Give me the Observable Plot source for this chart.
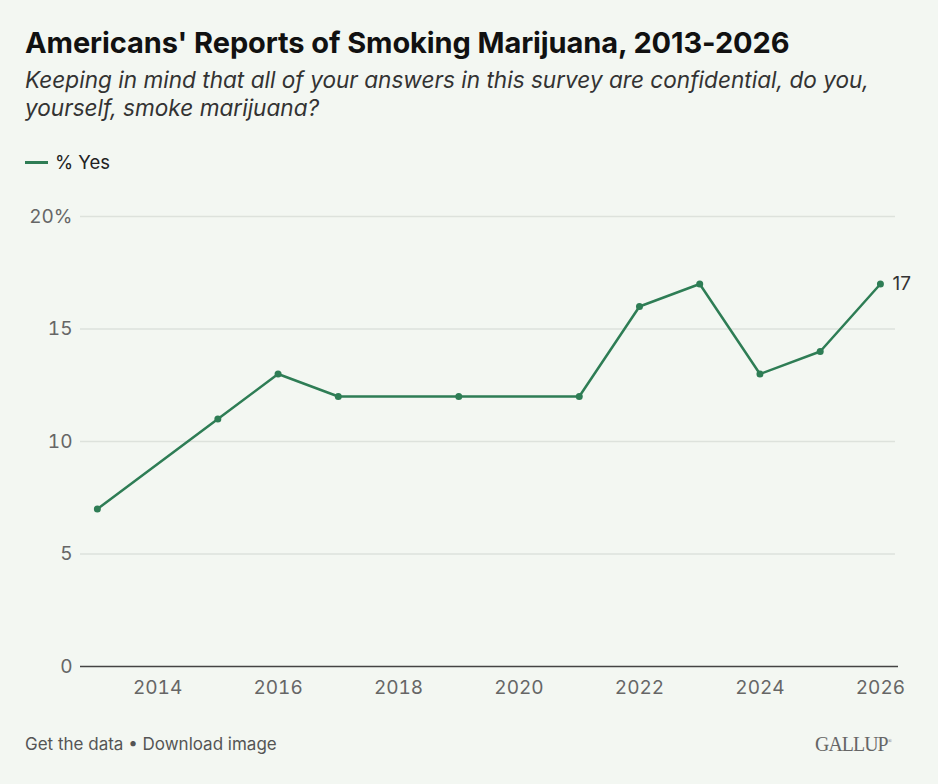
<!DOCTYPE html>
<html><head><meta charset="utf-8">
<script src="https://cdn.jsdelivr.net/npm/d3@7"></script>
<script src="https://cdn.jsdelivr.net/npm/@observablehq/plot@0.6"></script>
<style>
body{margin:0;background:#f3f7f2;font-family:Inter,"Noto Sans",sans-serif;}
#wrap{position:relative;width:938px;height:784px;background:#f3f7f2;overflow:hidden;}
#title{position:absolute;left:25px;top:25px;font-size:29px;font-weight:700;color:#111;letter-spacing:-0.1px;white-space:nowrap;}
#sub{position:absolute;left:25px;top:66px;font-size:22.6px;font-style:italic;color:#333;line-height:28px;width:900px;}
#legend{position:absolute;left:25px;top:151px;font-size:18.5px;color:#222;display:flex;align-items:center;}
#legend span.sw{display:inline-block;width:23px;height:3px;background:#2e7d55;margin-right:7px;}
#chart{position:absolute;left:0;top:180px;}
#foot{position:absolute;left:25px;top:734px;font-size:17px;color:#555;}
#logo{position:absolute;left:815px;top:731px;font-family:"Liberation Serif","DejaVu Serif",serif;font-size:22px;color:#666;letter-spacing:-1px;transform:scaleX(0.9);transform-origin:left;}
</style></head>
<body><div id="wrap">
<div id="title">Americans' Reports of Smoking Marijuana, 2013-2026</div>
<div id="sub">Keeping in mind that all of your answers in this survey are confidential, do you, yourself, smoke marijuana?</div>
<div id="legend"><span class="sw"></span>% Yes</div>
<div id="chart"></div>
<div id="foot">Get the data • Download image</div>
<div id="logo">GALLUP<sup style="font-size:6px">®</sup></div>
</div>
<script>
const years = [2013, 2015, 2016, 2017, 2019, 2021, 2022, 2023, 2024, 2025, 2026];
const yesValues = [7, 11, 13, 12, 12, 12, 16, 17, 13, 14, 17];
const xTicks = [2014, 2016, 2018, 2020, 2022, 2024, 2026];
const yTicks = [0, 5, 10, 15, 20];
const data = years.map((y, i) => ({year: y, value: yesValues[i]}));
const last = data[data.length - 1];
const green = "#2e7d55";
const chart = Plot.plot({
  width: 938, height: 540,
  marginLeft: 80, marginRight: 40, marginTop: 36, marginBottom: 54,
  style: {background: "transparent", fontFamily: "Inter, 'Noto Sans', sans-serif", fontSize: "18px", color: "#666"},
  x: {domain: [2012.72, 2026.3], ticks: xTicks, tickFormat: d => String(d), tickSize: 0, tickPadding: 14, label: null},
  y: {domain: [0, 20], ticks: yTicks, tickFormat: d => d === 20 ? "20%" : String(d), tickSize: 0, tickPadding: 8, label: null},
  marks: [
    Plot.gridY(yTicks.filter(d => d > 0), {stroke: "#dde2dc", strokeOpacity: 1, strokeWidth: 1.5, x1: 2012.72, x2: 2026.25}),
    Plot.axisX({ticks: xTicks, tickFormat: d => String(d), tickSize: 0, tickPadding: 14, fill: "#666", fontSize: 19}),
    Plot.axisY({ticks: yTicks, tickFormat: d => d === 20 ? "20%" : String(d), tickSize: 0, tickPadding: 8, fill: "#666", fontSize: 19}),
    Plot.ruleY([0], {stroke: "#444", strokeWidth: 1.5}),
    Plot.line(data, {x: "year", y: "value", stroke: green, strokeWidth: 2.5}),
    Plot.dot(data, {x: "year", y: "value", r: 3.5, fill: green}),
    Plot.text([last], {x: "year", y: "value", text: d => String(d.value), dx: 12, textAnchor: "start", fill: "#333", fontSize: 19})
  ]
});
document.getElementById("chart").appendChild(chart);
</script>
</body></html>
